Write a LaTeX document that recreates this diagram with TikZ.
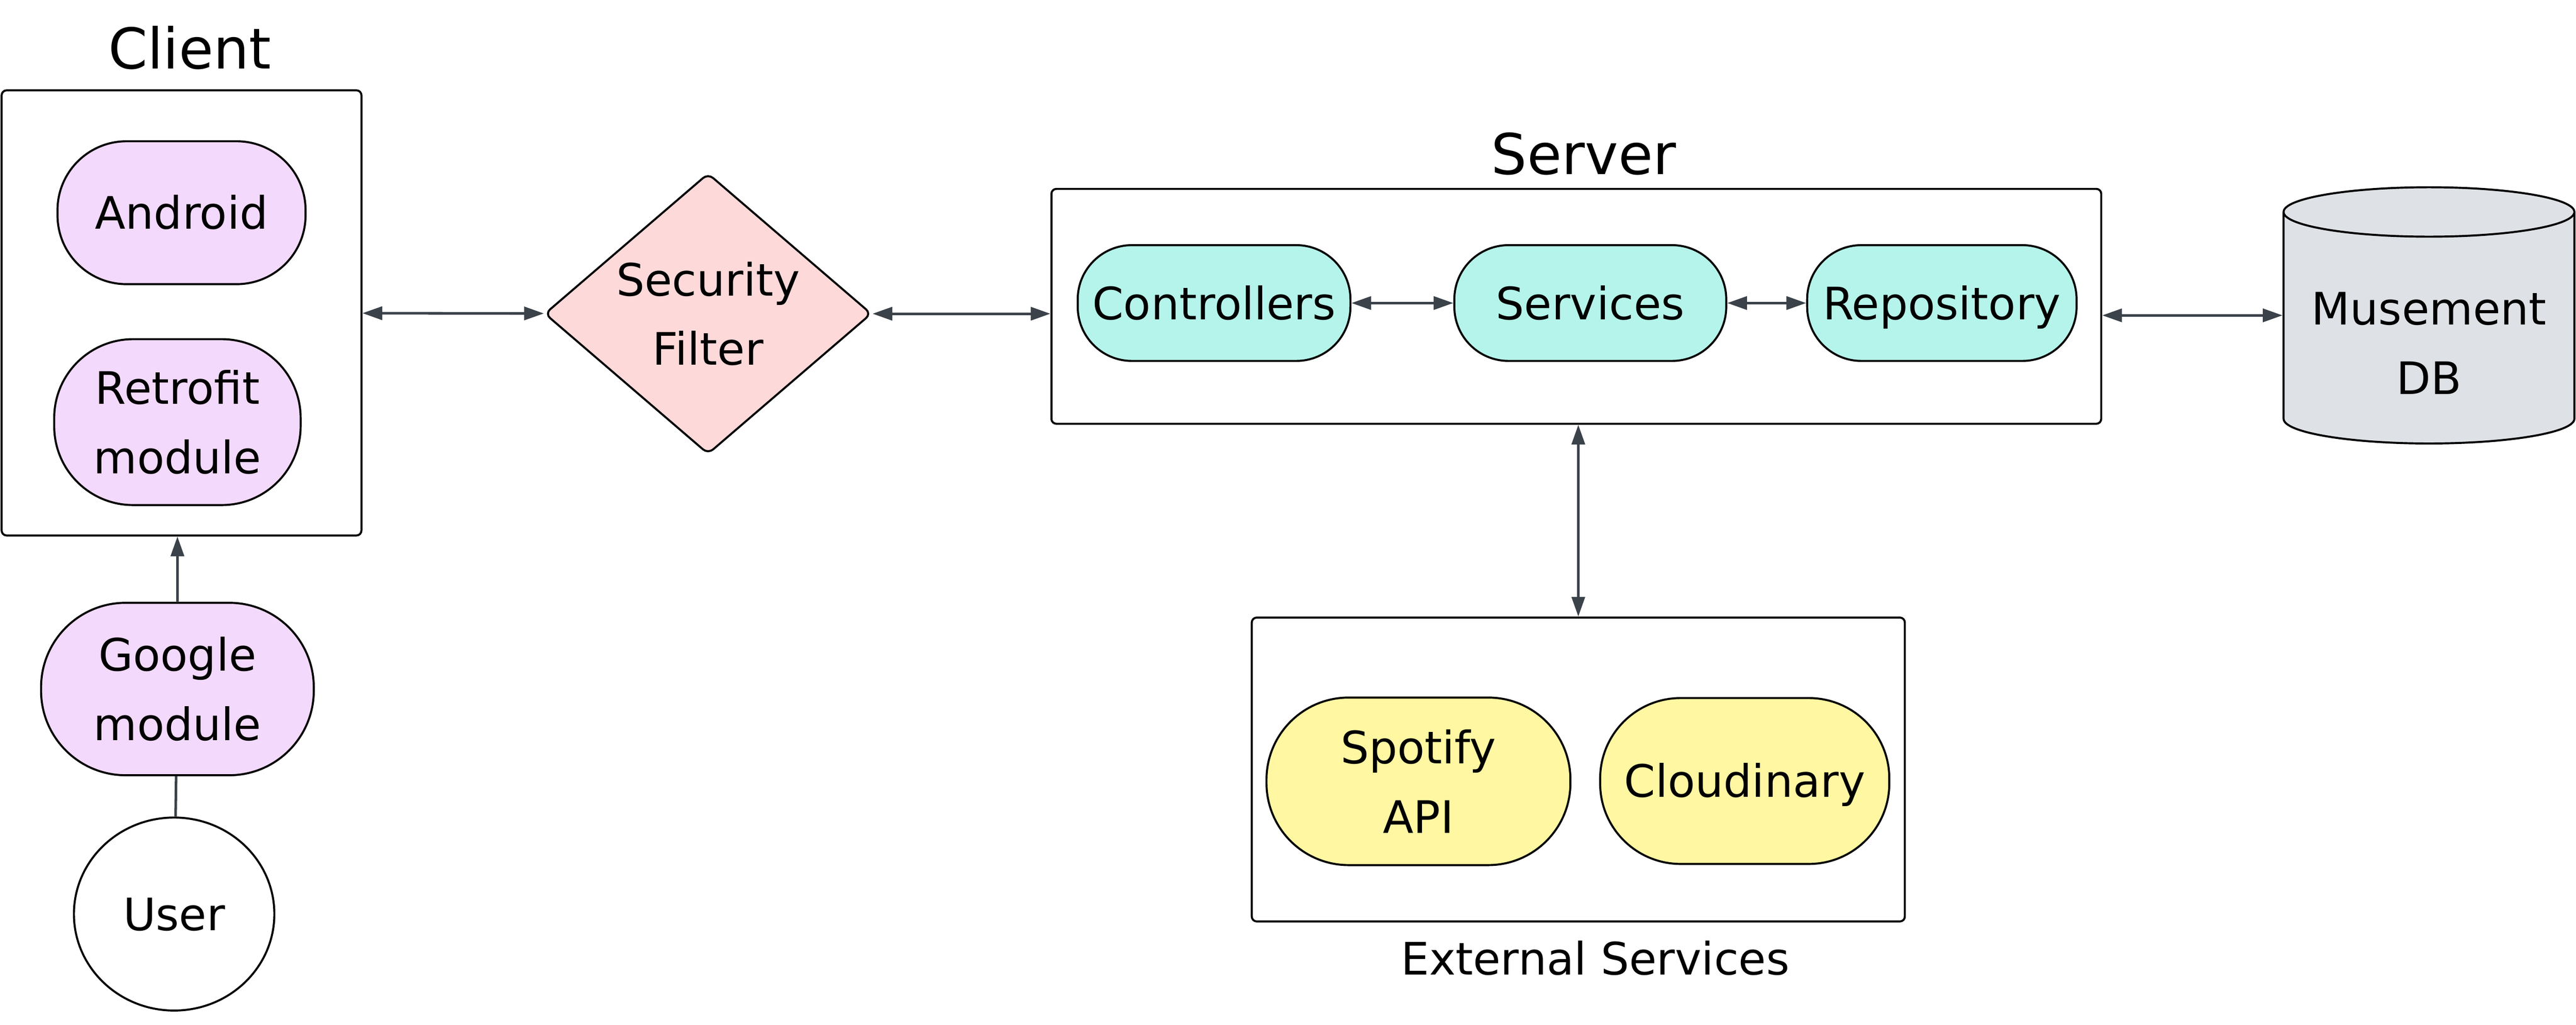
\documentclass[tikz,border=0pt]{standalone}
\usepackage{fontspec}
\setmainfont{DejaVu Sans}
\usetikzlibrary{shapes.geometric,arrows.meta}
\definecolor{lilac}{HTML}{F3D9FC}
\definecolor{rosy}{HTML}{FDD9D9}
\definecolor{mint}{HTML}{B5F4EA}
\definecolor{lemon}{HTML}{FFF7A1}
\definecolor{dbgray}{HTML}{DEE1E6}
\definecolor{arrowc}{HTML}{3B424A}

\begin{document}
\begin{tikzpicture}[
		x=0.2mm, y=-0.2mm,
		every node/.style={font=\fontsize{15.5}{24}\selectfont, align=center, inner sep=0pt, line width=0.7pt},
		oneline/.style={text height=11.3pt, text depth=0pt},
		pill/.style={rectangle, draw, rounded corners=#1},
		panel/.style={rectangle, draw, rounded corners=0.6mm},
		heading/.style={anchor=base, font=\fontsize{19.5}{24}\selectfont},
		plain/.style={draw=arrowc, line width=0.9pt},
		oneway/.style={plain, arrows={-Triangle[length=2.4mm, width=1.6mm]}},
		twoway/.style={plain, arrows={Triangle[length=2.4mm, width=1.6mm]-Triangle[length=2.4mm, width=1.6mm]}}
	]
  \useasboundingbox (0,0) rectangle (1568,624);
  \node (client) [panel, minimum width=43.8mm, minimum height=54.2mm] at (110.5, 190.5) {};
  \node (client_t) [heading] at (115.5, 42) {Client};
  \node (android) [pill=8.4mm, fill=lilac, oneline, minimum width=30.2mm, minimum height=17.4mm] at (110.5, 129.5) {Android};
  \node (retrofit) [pill=9.6mm, fill=lilac, minimum width=30mm, minimum height=20.2mm] at (108, 257) {Retrofit\\module};
  \node (google_m) [pill=10.3mm, fill=lilac, minimum width=33.2mm, minimum height=21mm] at (108, 419.5) {Google\\module};
  \node (user) [ellipse, draw, oneline, minimum width=24.4mm, minimum height=23.5mm] at (106, 556.5) {User};
  \node (sec_f) [diamond, draw, fill=rosy, aspect=1.16, minimum width=39.8mm, minimum height=34.2mm, rounded corners=0.8mm] at (431, 191) {Security\\Filter};
  \node (server) [panel, minimum width=127.8mm, minimum height=28.6mm] at (959.5, 186.5) {};
  \node (server_t) [heading] at (964, 106) {Server};
  \node (ctrl) [pill=6.6mm, fill=mint, oneline, minimum width=33.2mm, minimum height=14.1mm] at (739, 184.5) {Controllers};
  \node (serv) [pill=6.6mm, fill=mint, oneline, minimum width=33.1mm, minimum height=14.1mm] at (968, 184.5) {Services};
  \node (repo) [pill=6.6mm, fill=mint, oneline, minimum width=32.8mm, minimum height=14.1mm] at (1182, 184.5) {Repository};
  \node (db) [cylinder, shape border rotate=90, draw, fill=dbgray, inner xsep=17.7mm, inner ysep=0pt, aspect=0.17, minimum height=31.2mm, anchor=shape center] at (1478.5, 192) {};
  \node (db_t) at (1478.5, 209) {Musement\\DB};
  \node (ext) [panel, minimum width=79.5mm, minimum height=37mm] at (960.7, 468.5) {};
  \node (spotify) [pill=10mm, fill=lemon, minimum width=37mm, minimum height=20.4mm] at (863.4, 475.7) {Spotify\\API};
  \node (cloud) [pill=9.8mm, fill=lemon, oneline, minimum width=35.2mm, minimum height=20.2mm] at (1062, 475.5) {Cloudinary};
  \node (ext_t) [anchor=base] at (971, 593.5) {External Services};
  \draw (user) edge [plain] (google_m);
  \draw [oneway] (google_m) -- (client.south -| google_m);
  \draw [twoway] (client) -- (sec_f);
  \draw [twoway] (sec_f.east) -- (server.west |- sec_f.east);
  \draw [twoway] (ctrl) -- (serv);
  \draw [twoway] (serv) -- (repo);
  \draw [twoway] (server.east |- db.shape center) -- (db.shape center -| db.west);
  \draw [twoway] (server.south -| ext.north) -- (ext.north);
\end{tikzpicture}
\end{document}
